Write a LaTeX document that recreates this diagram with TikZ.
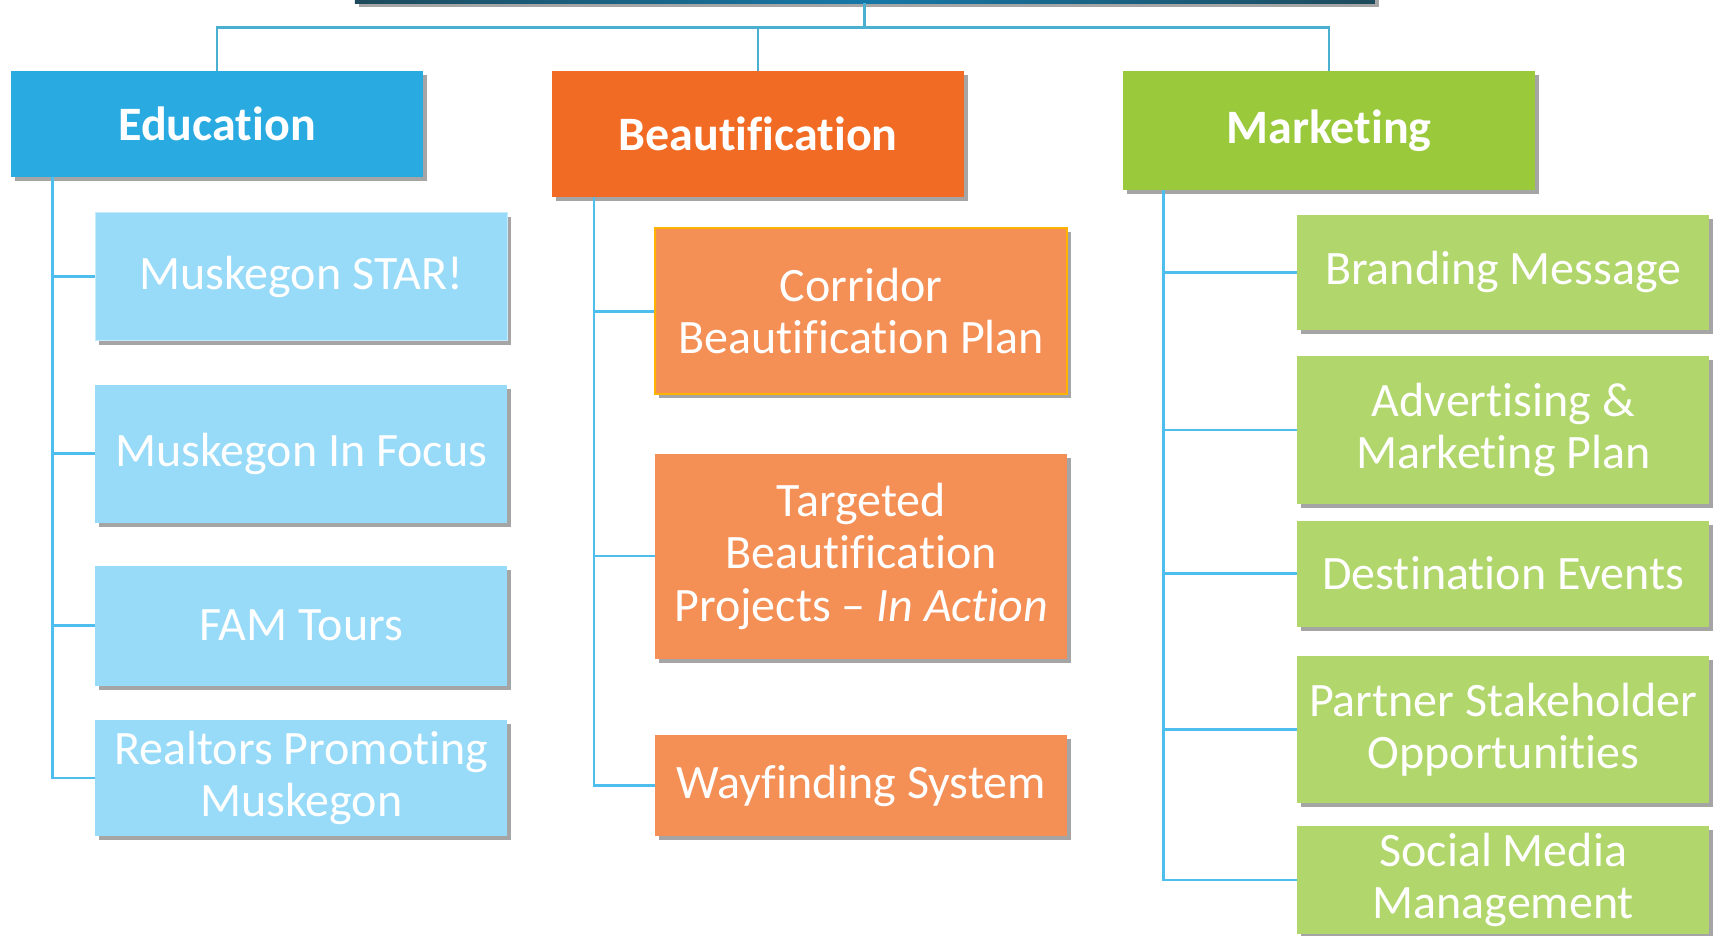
\documentclass[tikz,border=0pt]{standalone}
\usepackage{fontspec}
\setmainfont{Carlito}[Ligatures=NoCommon]
\usepackage{tikz}
\usetikzlibrary{shadows}

\definecolor{eduCol}{HTML}{29ABE2}
\definecolor{beauCol}{HTML}{F26B24}
\definecolor{mktCol}{HTML}{9AC93C}
\definecolor{eduLight}{HTML}{98DBF9}
\definecolor{beauLight}{HTML}{F48F56}
\definecolor{mktLight}{HTML}{B1D66B}
\definecolor{barEnd}{HTML}{1D4A5C}
\definecolor{barMid}{HTML}{1578A8}
\definecolor{topLine}{HTML}{4BAFCF}
\definecolor{branchLine}{HTML}{4DBEEE}

\begin{document}
\begin{tikzpicture}[x=1pt,y=-1pt,
    box/.style={rectangle, inner sep=0pt, text=white, align=flush center, text width=410pt,
      minimum width=412pt, drop shadow={shadow xshift=4pt, shadow yshift=-4pt, fill=black!70, opacity=0.5}},
    head/.style={box, font=\fontsize{48}{56}\selectfont\bfseries},
    item/.style={box, font=\fontsize{48}{52.5}\selectfont},
    topline/.style={topLine, line width=2.8pt},
    branch/.style={branchLine, line width=2.8pt}]
  \useasboundingbox (0,0) rectangle (1718,935);
  \fill[white] (0,0) rectangle (1718,935);

  % barra superior
  \node[rectangle, minimum width=1020pt, minimum height=16pt, inner sep=0pt,
        left color=barEnd, right color=barEnd, middle color=barMid,
        drop shadow={shadow xshift=4pt, shadow yshift=-4pt, fill=black!70, opacity=0.5}]
        (top) at (864.75,-5) {};

  % cabeceras
  \node[head, fill=eduCol, minimum height=106pt] (edu) at (217,124) {Education};
  \node[head, fill=beauCol, minimum height=126pt] (beau) at (758,134) {Beautification};
  \node[head, fill=mktCol, minimum height=119pt] (mkt) at (1329,130.5) {Marketing};

  % Education
  \node[item, fill=eduLight, draw=eduLight!55!white, line width=1.5pt, minimum height=128pt] (star) at (301.3,276.7) {Muskegon STAR!};
  \node[item, fill=eduLight, minimum height=138pt] (focus) at (301.3,453.6) {Muskegon In Focus};
  \node[item, fill=eduLight, minimum height=120pt] (fam) at (301.3,625.7) {FAM Tours};
  \node[item, fill=eduLight, minimum height=116pt] (realtors) at (301.3,778) {Realtors Promoting\\Muskegon};

  % Beautification
  \node[item, fill=beauLight, draw=orange!60!yellow, line width=1.5pt, minimum height=166pt] (corridor) at (861.2,311.2) {Corridor\\Beautification Plan};
  \node[item, fill=beauLight, minimum height=205pt] (targeted) at (861.2,556) {Targeted\\Beautification\\Projects – \textit{In Action}};
  \node[item, fill=beauLight, minimum height=101pt] (wayfind) at (861.2,785.5) {Wayfinding System};

  % Marketing
  \node[item, fill=mktLight, minimum height=115pt] (brand) at (1503.3,272.3) {Branding Message};
  \node[item, fill=mktLight, minimum height=148pt] (advert) at (1503.3,430) {Advertising \&\\Marketing Plan};
  \node[item, fill=mktLight, minimum height=106pt] (dest) at (1503.3,573.6) {Destination Events};
  \node[item, fill=mktLight, minimum height=147pt] (partner) at (1503.3,729.6) {Partner Stakeholder\\Opportunities};
  \node[item, fill=mktLight, minimum height=108pt] (social) at (1503.3,880) {Social Media\\Management};

  % conectores superiores
  \coordinate (hub) at (864.75,27.5);
  \draw[topline] (top.south) -- (hub);
  \draw[topline] (edu.north) |- (hub) -| (mkt.north);
  \draw[topline] (beau.north) -- (beau.north |- hub);

  % troncos
  \coordinate (eduT) at (52.6,177);
  \coordinate (beauT) at (593.9,197);
  \coordinate (mktT) at (1163.6,190);
  \draw[branch] (eduT) |- (realtors.west);
  \draw[branch] (beauT) |- (wayfind.west);
  \draw[branch] (mktT) |- (social.west);
  \foreach \n in {star,focus,fam}
    \draw[branch] (eduT |- \n.west) -- (\n.west);
  \foreach \n in {corridor,targeted}
    \draw[branch] (beauT |- \n.west) -- (\n.west);
  \foreach \n in {brand,advert,dest,partner}
    \draw[branch] (mktT |- \n.west) -- (\n.west);
\end{tikzpicture}
\end{document}
